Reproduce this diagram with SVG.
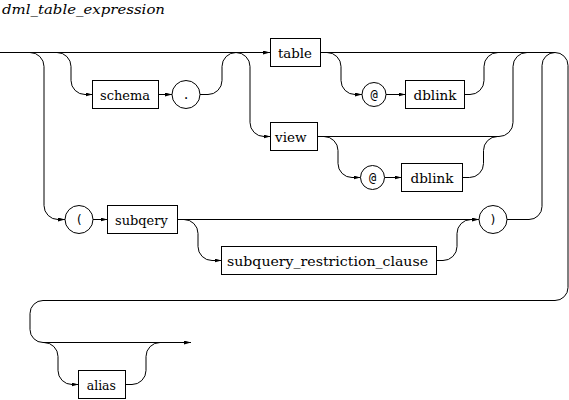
<svg xmlns="http://www.w3.org/2000/svg" width="569" height="400" viewBox="0 0 569 400">
<style>
.ln{fill:none;stroke:#000;stroke-width:1}
.bx{fill:#fff;stroke:#000;stroke-width:1}
text{fill:#000;font-weight:400}
.m{text-anchor:middle;font-family:"DejaVu Sans Mono",monospace;font-size:12px}
</style>
<defs>
<marker id="a" viewBox="0 0 7 4" refX="7" refY="2" markerWidth="7" markerHeight="4" orient="auto" markerUnits="userSpaceOnUse"><path d="M0,0 L7,2 L0,4 z" fill="#000"/></marker>
</defs>
<g font-family="DejaVu Serif, serif" font-size="13">
<text x="2" y="14" font-size="13" font-style="italic" textLength="163" lengthAdjust="spacingAndGlyphs">dml_table_expression</text>
<g id="connectors">
<path class="ln" marker-end="url(#a)" d="M0 52.5 H270"/>
<path class="ln" marker-end="url(#a)" d="M30 52.5 a14 14 0 0 1 14 14 V205.5 a14 14 0 0 0 14 14 H65"/>
<path class="ln" marker-end="url(#a)" d="M57 52.5 a14 14 0 0 1 14 14 V80.5 a14 14 0 0 0 14 14 H92.5"/>
<path class="ln" marker-end="url(#a)" d="M158.5 94.5 H172"/>
<path class="ln" marker-end="url(#a)" d="M200 94.5 H208 a14 14 0 0 0 14 -14 V66.5 a14 14 0 0 1 14 -14 a14 14 0 0 1 14 14 V122.5 a14 14 0 0 0 14 14 H270.5"/>
<path class="ln" marker-end="url(#a)" d="M320.5 52.5 H555 a13 13 0 0 1 13 13 V287.5 a13 13 0 0 1 -13 13 H43 a13 13 0 0 0 -13 13 V329.5 a13 13 0 0 0 13 13 H191"/>
<path class="ln" marker-end="url(#a)" d="M327 52.5 a14 14 0 0 1 14 14 V80.5 a14 14 0 0 0 14 14 H362"/>
<path class="ln" marker-end="url(#a)" d="M386 94.5 H405.5"/>
<path class="ln" d="M464.5 94.5 H470 a14 14 0 0 0 14 -14 V66.5 a14 14 0 0 1 14 -14"/>
<path class="ln" d="M317.5 136.5 H499 a14 14 0 0 0 14 -14 V66.5 a14 14 0 0 1 14 -14"/>
<path class="ln" marker-end="url(#a)" d="M324 136.5 a14 14 0 0 1 14 14 V163.5 a14 14 0 0 0 14 14 H360.5"/>
<path class="ln" marker-end="url(#a)" d="M384.5 177.5 H401.5"/>
<path class="ln" d="M462.5 177.5 H469.5 a14 14 0 0 0 14 -14 V150.5 a14 14 0 0 1 14 -14"/>
<path class="ln" marker-end="url(#a)" d="M93 219.5 H107.5"/>
<path class="ln" marker-end="url(#a)" d="M177.5 219.5 H479"/>
<path class="ln" marker-end="url(#a)" d="M184 219.5 a14 14 0 0 1 14 14 V246.5 a14 14 0 0 0 14 14 H221.5"/>
<path class="ln" d="M436.5 260.5 H443 a14 14 0 0 0 14 -14 V233.5 a14 14 0 0 1 14 -14 H479"/>
<path class="ln" d="M507 219.5 H529 a13 13 0 0 0 13 -13 V65.5 a13 13 0 0 1 13 -13"/>
<path class="ln" marker-end="url(#a)" d="M44 342.5 a14 14 0 0 1 14 14 V370.5 a14 14 0 0 0 14 14 H78.5"/>
<path class="ln" d="M125.5 384.5 H132 a14 14 0 0 0 14 -14 V356.5 a14 14 0 0 1 14 -14"/>
</g>
<g id="table"><rect class="bx" x="270.5" y="38.5" width="50" height="28"/><text x="278" y="57.5" textLength="34" lengthAdjust="spacingAndGlyphs">table</text></g>
<g id="schema"><rect class="bx" x="92.5" y="80.5" width="66" height="28"/><text x="100" y="99.5" textLength="50" lengthAdjust="spacingAndGlyphs">schema</text></g>
<g id="dot"><circle class="bx" cx="186" cy="94.5" r="14"/><text class="m" x="186" y="98.5">.</text></g>
<g id="view"><rect class="bx" x="270.5" y="122.5" width="47" height="28"/><text x="275" y="141.5" textLength="31.5" lengthAdjust="spacingAndGlyphs">view</text></g>
<g id="at1"><circle class="bx" cx="374" cy="94.5" r="12"/><text class="m" x="374" y="98.5">@</text></g>
<g id="dblink1"><rect class="bx" x="405.5" y="80.5" width="59" height="28"/><text x="413.5" y="99.5" textLength="43" lengthAdjust="spacingAndGlyphs">dblink</text></g>
<g id="at2"><circle class="bx" cx="372.5" cy="177.5" r="12"/><text class="m" x="372.5" y="181.5">@</text></g>
<g id="dblink2"><rect class="bx" x="401.5" y="163.5" width="61" height="28"/><text x="410.5" y="182.5" textLength="43" lengthAdjust="spacingAndGlyphs">dblink</text></g>
<g id="lparen"><circle class="bx" cx="79" cy="219.5" r="14"/><text class="m" x="79" y="223.5">(</text></g>
<g id="subqery"><rect class="bx" x="107.5" y="205.5" width="70" height="28"/><text x="115" y="224.5" textLength="52.7" lengthAdjust="spacingAndGlyphs">subqery</text></g>
<g id="subquery_restriction_clause"><rect class="bx" x="221.5" y="246.5" width="215" height="28"/><text x="227" y="265.5" textLength="201" lengthAdjust="spacingAndGlyphs">subquery_restriction_clause</text></g>
<g id="rparen"><circle class="bx" cx="493" cy="219.5" r="14"/><text class="m" x="493" y="223.5">)</text></g>
<g id="alias"><rect class="bx" x="78.5" y="370.5" width="47" height="28"/><text x="86.7" y="389.5" textLength="29.3" lengthAdjust="spacingAndGlyphs">alias</text></g>
</g>
</svg>
